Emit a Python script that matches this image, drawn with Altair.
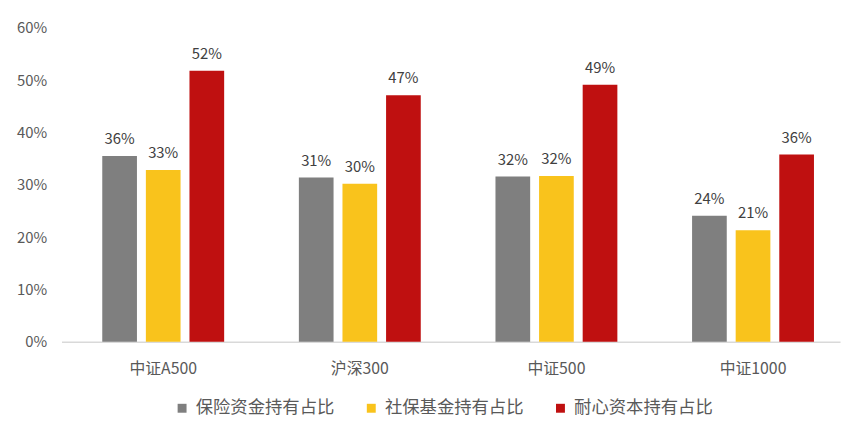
import altair as alt
import pandas as pd

categories = ["中证A500", "沪深300", "中证500", "中证1000"]
series = ["保险资金持有占比", "社保基金持有占比", "耐心资本持有占比"]
insurance = [0.355, 0.314, 0.316, 0.241]
social = [0.328, 0.302, 0.317, 0.213]
patient = [0.518, 0.471, 0.491, 0.358]
colors = ["#7F7F7F", "#F9C31C", "#BF1010"]

rows = []
for i, c in enumerate(categories):
    for s, vals in zip(series, [insurance, social, patient]):
        rows.append({"cat": c, "series": s, "value": vals[i],
                     "label": f"{round(vals[i] * 100):d}%"})
df = pd.DataFrame(rows)

FONT = "Noto Sans CJK SC"

x = alt.X("cat:N", sort=categories, title=None,
          scale=alt.Scale(paddingInner=0.38, paddingOuter=0.17, align=0.61),
          axis=alt.Axis(labelAngle=0, ticks=False, domainColor="#D9D9D9",
                        domainWidth=1.5, labelFontSize=16, labelColor="#595959",
                        labelFont=FONT, labelPadding=19, grid=False))
xo = alt.XOffset("series:N", sort=series,
                 scale=alt.Scale(paddingInner=0.2045, paddingOuter=0))
y = alt.Y("value:Q", title=None,
          scale=alt.Scale(domain=[0, 0.6], nice=False),
          axis=alt.Axis(format=".0%", values=[0, 0.1, 0.2, 0.3, 0.4, 0.5, 0.6],
                        ticks=False, domain=False, grid=False, labelFontSize=15,
                        labelColor="#595959", labelFont=FONT, labelPadding=15))

color = alt.Color("series:N", sort=series,
                  scale=alt.Scale(domain=series, range=colors),
                  legend=alt.Legend(title=None, orient="none", direction="horizontal",
                                    legendX=113, legendY=375, symbolType="square",
                                    symbolSize=81, symbolStrokeWidth=0,
                                    labelFontSize=17.5, labelColor="#595959",
                                    labelFont=FONT, labelOffset=5, columnPadding=28,
                                    labelLimit=400, padding=0))

bars = alt.Chart(df).mark_bar().encode(x=x, xOffset=xo, y=y, color=color)
texts = alt.Chart(df).mark_text(baseline="alphabetic", dy=-12, fontSize=15,
                                color="#404040", font=FONT).encode(
    x=x, xOffset=xo, y=y, text="label:N")

chart = alt.layer(bars, texts).properties(
    width=786, height=317,
    padding={"left": 54, "top": 18, "right": 4, "bottom": 76},
    autosize=alt.AutoSizeParams(type="none"),
).configure(background="white").configure_view(stroke=None, strokeWidth=0)

chart.save("out.html", embed_options={"renderer": "svg", "actions": False})
